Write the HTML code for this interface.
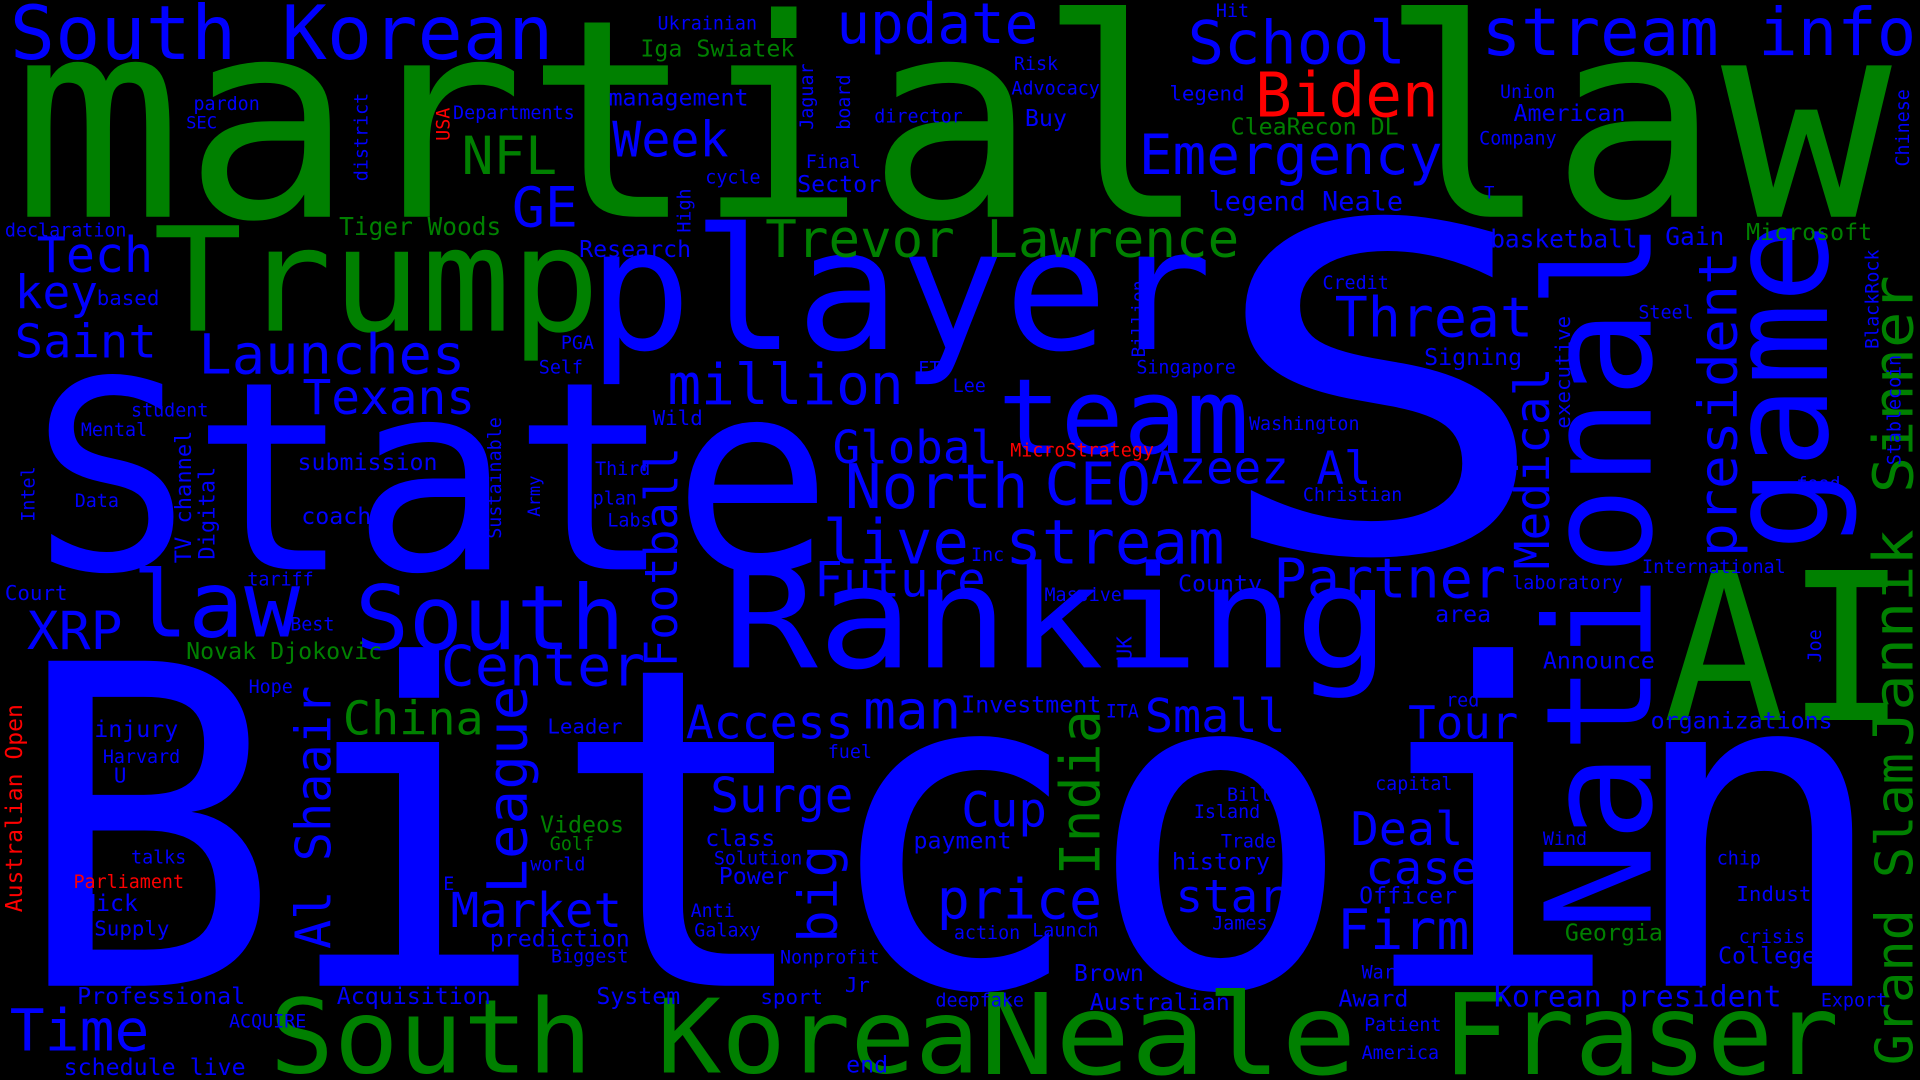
<!DOCTYPE html>
<html><head><meta charset="utf-8"><title>Word cloud</title>
<style>
html,body{margin:0;padding:0;background:#000;width:1920px;height:1080px;overflow:hidden}
svg{display:block}
text{font-family:"DejaVu Sans Mono","Liberation Mono",monospace}
.b{fill:#0000ff}.g{fill:#008000}.r{fill:#ff0000}
</style></head>
<body>
<svg width="1920" height="1080" viewBox="0 0 1568 882" xmlns="http://www.w3.org/2000/svg">
<rect width="1568" height="882" fill="#000"/>
<g>
<!-- big words -->
<text class="g" x="10" y="177" font-size="226" textLength="1535" lengthAdjust="spacingAndGlyphs">martial law</text>
<text class="b" x="10" y="805" font-size="364" textLength="1535" lengthAdjust="spacingAndGlyphs">Bitcoin</text>
<text class="b" x="25" y="465" font-size="215" textLength="655" lengthAdjust="spacingAndGlyphs">State</text>
<text class="b" x="985" y="450" font-size="370" textLength="285" lengthAdjust="spacingAndGlyphs">S</text>
<text class="b" x="590" y="545" font-size="116" textLength="545" lengthAdjust="spacingAndGlyphs">Ranking</text>
<text class="b" x="480" y="285" font-size="138" textLength="510" lengthAdjust="spacingAndGlyphs">player</text>
<text class="g" x="125" y="270" font-size="118" textLength="365" lengthAdjust="spacingAndGlyphs">Trump</text>
<text class="g" x="220" y="876" font-size="84" textLength="580" lengthAdjust="spacingAndGlyphs">South Korea</text>
<text class="g" x="800" y="877" font-size="92" textLength="308" lengthAdjust="spacingAndGlyphs">Neale</text>
<text class="g" x="1178" y="877" font-size="92" textLength="324" lengthAdjust="spacingAndGlyphs">Fraser</text>
<text class="g" x="1358" y="588" font-size="168" textLength="200" lengthAdjust="spacingAndGlyphs">AI</text>
<text class="b" x="815" y="370" font-size="85" textLength="205" lengthAdjust="spacingAndGlyphs">team</text>
<text class="b" x="290" y="530" font-size="73" textLength="220" lengthAdjust="spacingAndGlyphs">South</text>
<text class="b" x="108" y="520" font-size="75" textLength="137" lengthAdjust="spacingAndGlyphs">law</text>
<text class="g" x="625" y="210" font-size="42" textLength="387" lengthAdjust="spacingAndGlyphs">Trevor Lawrence</text>
<text class="b" x="930" y="142" font-size="45" textLength="248" lengthAdjust="spacingAndGlyphs">Emergency</text>
<text class="b" x="1210" y="45" font-size="54" textLength="355" lengthAdjust="spacingAndGlyphs">stream info</text>
<text class="b" x="8" y="48" font-size="61" textLength="444" lengthAdjust="spacingAndGlyphs">South Korean</text>
<text class="b" x="683" y="35" font-size="46" textLength="165" lengthAdjust="spacingAndGlyphs">update</text>
<text class="b" x="970" y="52" font-size="49" textLength="178" lengthAdjust="spacingAndGlyphs">School</text>
<text class="r" x="1025" y="95" font-size="50" textLength="150" lengthAdjust="spacingAndGlyphs">Biden</text>
<text class="g" x="377" y="142" font-size="43" textLength="78" lengthAdjust="spacingAndGlyphs">NFL</text>
<text class="b" x="500" y="128" font-size="40" textLength="95" lengthAdjust="spacingAndGlyphs">Week</text>
<text class="b" x="418" y="185" font-size="45" textLength="54" lengthAdjust="spacingAndGlyphs">GE</text>
<text class="b" x="30" y="222" font-size="40" textLength="95" lengthAdjust="spacingAndGlyphs">Tech</text>
<text class="b" x="12" y="252" font-size="38" textLength="68" lengthAdjust="spacingAndGlyphs">key</text>
<text class="b" x="12" y="292" font-size="38" textLength="116" lengthAdjust="spacingAndGlyphs">Saint</text>
<text class="b" x="162" y="305" font-size="45" textLength="218" lengthAdjust="spacingAndGlyphs">Launches</text>
<text class="b" x="247" y="338" font-size="39" textLength="141" lengthAdjust="spacingAndGlyphs">Texans</text>
<text class="b" x="545" y="330" font-size="46" textLength="193" lengthAdjust="spacingAndGlyphs">million</text>
<text class="b" x="1090" y="275" font-size="45" textLength="162" lengthAdjust="spacingAndGlyphs">Threat</text>
<text class="b" x="680" y="378" font-size="37" textLength="135" lengthAdjust="spacingAndGlyphs">Global</text>
<text class="b" x="690" y="415" font-size="50" textLength="150" lengthAdjust="spacingAndGlyphs">North</text>
<text class="b" x="853" y="412" font-size="48" textLength="87" lengthAdjust="spacingAndGlyphs">CEO</text>
<text class="b" x="940" y="395" font-size="37" textLength="180" lengthAdjust="spacingAndGlyphs">Azeez Al</text>
<text class="b" x="672" y="460" font-size="50" textLength="328" lengthAdjust="spacingAndGlyphs">live stream</text>
<text class="b" x="665" y="487" font-size="39" textLength="140" lengthAdjust="spacingAndGlyphs">Future</text>
<text class="b" x="1040" y="488" font-size="45" textLength="190" lengthAdjust="spacingAndGlyphs">Partner</text>
<text class="b" x="22" y="530" font-size="43" textLength="78" lengthAdjust="spacingAndGlyphs">XRP</text>
<text class="b" x="360" y="560" font-size="46" textLength="167" lengthAdjust="spacingAndGlyphs">Center</text>
<text class="g" x="280" y="600" font-size="38" textLength="115" lengthAdjust="spacingAndGlyphs">China</text>
<text class="b" x="560" y="603" font-size="38" textLength="137" lengthAdjust="spacingAndGlyphs">Access</text>
<text class="b" x="705" y="595" font-size="44" textLength="80" lengthAdjust="spacingAndGlyphs">man</text>
<text class="b" x="935" y="598" font-size="38" textLength="115" lengthAdjust="spacingAndGlyphs">Small</text>
<text class="b" x="1150" y="603" font-size="37" textLength="90" lengthAdjust="spacingAndGlyphs">Tour</text>
<text class="b" x="580" y="663" font-size="39" textLength="117" lengthAdjust="spacingAndGlyphs">Surge</text>
<text class="b" x="785" y="675" font-size="39" textLength="70" lengthAdjust="spacingAndGlyphs">Cup</text>
<text class="b" x="765" y="750" font-size="45" textLength="135" lengthAdjust="spacingAndGlyphs">price</text>
<text class="b" x="1103" y="690" font-size="38" textLength="92" lengthAdjust="spacingAndGlyphs">Deal</text>
<text class="b" x="1115" y="722" font-size="38" textLength="93" lengthAdjust="spacingAndGlyphs">case</text>
<text class="b" x="960" y="745" font-size="37" textLength="90" lengthAdjust="spacingAndGlyphs">star</text>
<text class="b" x="1092" y="775" font-size="45" textLength="108" lengthAdjust="spacingAndGlyphs">Firm</text>
<text class="b" x="368" y="757" font-size="39" textLength="140" lengthAdjust="spacingAndGlyphs">Market</text>
<text class="b" x="8" y="858" font-size="47" textLength="114" lengthAdjust="spacingAndGlyphs">Time</text>
<text class="b" x="1220" y="822" font-size="24" textLength="235" lengthAdjust="spacingAndGlyphs">Korean president</text>
<text class="g" x="1278" y="768" font-size="19">Georgia</text>

<!-- vertical words -->
<text class="b" transform="translate(1348,760) rotate(-90)" font-size="120" textLength="580" lengthAdjust="spacingAndGlyphs">National</text>
<text class="b" transform="translate(1492,450) rotate(-90)" font-size="112" textLength="270" lengthAdjust="spacingAndGlyphs">game</text>
<text class="b" transform="translate(1418,455) rotate(-90)" font-size="44" textLength="250" lengthAdjust="spacingAndGlyphs">president</text>
<text class="b" transform="translate(1265,465) rotate(-90)" font-size="39" textLength="165" lengthAdjust="spacingAndGlyphs">Medical</text>
<text class="g" transform="translate(1562,610) rotate(-90)" font-size="45" textLength="385" lengthAdjust="spacingAndGlyphs">Jannik Sinner</text>
<text class="g" transform="translate(1562,870) rotate(-90)" font-size="42" textLength="255" lengthAdjust="spacingAndGlyphs">Grand Slam</text>
<text class="b" transform="translate(553,545) rotate(-90)" font-size="37" textLength="180" lengthAdjust="spacingAndGlyphs">Football</text>
<text class="b" transform="translate(430,730) rotate(-90)" font-size="45" textLength="170" lengthAdjust="spacingAndGlyphs">League</text>
<text class="b" transform="translate(270,775) rotate(-90)" font-size="40" textLength="215" lengthAdjust="spacingAndGlyphs">Al Shaair</text>
<text class="g" transform="translate(898,715) rotate(-90)" font-size="45" textLength="135" lengthAdjust="spacingAndGlyphs">India</text>
<text class="b" transform="translate(683,770) rotate(-90)" font-size="44" textLength="80" lengthAdjust="spacingAndGlyphs">big</text>
<text class="r" transform="translate(18,745) rotate(-90)" font-size="19" textLength="170" lengthAdjust="spacingAndGlyphs">Australian Open</text>
<text class="b" transform="translate(156,460) rotate(-90)" font-size="18">TV channel</text>
<text class="b" transform="translate(175,457) rotate(-90)" font-size="18">Digital</text>
<text class="b" transform="translate(28,426) rotate(-90)" font-size="15">Intel</text>
<text class="b" transform="translate(409,440) rotate(-90)" font-size="15">Sustainable</text>
<text class="b" transform="translate(441,422) rotate(-90)" font-size="14">Army</text>
<text class="b" transform="translate(300,148) rotate(-90)" font-size="15">district</text>
<text class="r" transform="translate(367,115) rotate(-90)" font-size="15">USA</text>
<text class="b" transform="translate(664,106) rotate(-90)" font-size="15">Jaguar</text>
<text class="b" transform="translate(694,106) rotate(-90)" font-size="15">board</text>
<text class="b" transform="translate(564,190) rotate(-90)" font-size="15">High</text>
<text class="b" transform="translate(935,292) rotate(-90)" font-size="15">Billion</text>
<text class="b" transform="translate(924,540) rotate(-90)" font-size="17">UK</text>
<text class="b" transform="translate(1282,350) rotate(-90)" font-size="17">executive</text>
<text class="b" transform="translate(1559,136) rotate(-90)" font-size="15">Chinese</text>
<text class="b" transform="translate(1534,285) rotate(-90)" font-size="15">BlackRock</text>
<text class="b" transform="translate(1552,380) rotate(-90)" font-size="15">Stablecoin</text>
<text class="b" transform="translate(1487,541) rotate(-90)" font-size="15">Joe</text>

<!-- small words -->
<text class="b" x="537" y="24" font-size="15">Ukrainian</text>
<text class="g" x="523" y="46" font-size="19">Iga Swiatek</text>
<text class="b" x="993" y="14" font-size="15">Hit</text>
<text class="b" x="828" y="57" font-size="15">Risk</text>
<text class="b" x="826" y="77" font-size="15">Advocacy</text>
<text class="b" x="955" y="82" font-size="17">legend</text>
<text class="b" x="1225" y="80" font-size="15">Union</text>
<text class="b" x="1236" y="99" font-size="19">American</text>
<text class="b" x="1208" y="118" font-size="15">Company</text>
<text class="g" x="1005" y="110" font-size="19">CleaRecon DL</text>
<text class="b" x="158" y="90" font-size="15">pardon</text>
<text class="b" x="152" y="105" font-size="14">SEC</text>
<text class="b" x="370" y="97" font-size="15">Departments</text>
<text class="b" x="497" y="86" font-size="19">management</text>
<text class="b" x="714" y="100" font-size="15">director</text>
<text class="b" x="837" y="103" font-size="19">Buy</text>
<text class="b" x="658" y="137" font-size="15">Final</text>
<text class="b" x="576" y="150" font-size="15">cycle</text>
<text class="b" x="651" y="157" font-size="19">Sector</text>
<text class="b" x="987" y="172" font-size="22">legend Neale</text>
<text class="b" x="1212" y="162" font-size="14">T</text>
<text class="b" x="4" y="193" font-size="15">declaration</text>
<text class="g" x="277" y="192" font-size="20">Tiger Woods</text>
<text class="b" x="473" y="210" font-size="19">Research</text>
<text class="b" x="1217" y="202" font-size="20">basketball</text>
<text class="b" x="1360" y="200" font-size="20">Gain</text>
<text class="g" x="1426" y="196" font-size="19">Microsoft</text>
<text class="b" x="79" y="249" font-size="17">based</text>
<text class="b" x="1080" y="236" font-size="15">Credit</text>
<text class="b" x="1338" y="260" font-size="15">Steel</text>
<text class="b" x="458" y="285" font-size="15">PGA</text>
<text class="b" x="440" y="305" font-size="15">Self</text>
<text class="b" x="750" y="306" font-size="15">ETF</text>
<text class="b" x="928" y="305" font-size="15">Singapore</text>
<text class="b" x="1163" y="298" font-size="19">Signing</text>
<text class="b" x="778" y="320" font-size="15">Lee</text>
<text class="b" x="107" y="340" font-size="15">student</text>
<text class="b" x="66" y="356" font-size="15">Mental</text>
<text class="b" x="533" y="347" font-size="17">Wild</text>
<text class="b" x="1020" y="351" font-size="15">Washington</text>
<text class="r" x="825" y="373" font-size="15">MicroStrategy</text>
<text class="b" x="243" y="384" font-size="19">submission</text>
<text class="b" x="486" y="388" font-size="15">Third</text>
<text class="b" x="484" y="412" font-size="15">plan</text>
<text class="b" x="1064" y="409" font-size="15">Christian</text>
<text class="b" x="1467" y="400" font-size="15">food</text>
<text class="b" x="61" y="414" font-size="15">Data</text>
<text class="b" x="246" y="428" font-size="19">coach</text>
<text class="b" x="496" y="430" font-size="15">Labs</text>
<text class="b" x="793" y="458" font-size="15">Inc</text>
<text class="b" x="202" y="478" font-size="15">tariff</text>
<text class="b" x="962" y="483" font-size="19">County</text>
<text class="b" x="1235" y="481" font-size="15">laboratory</text>
<text class="b" x="1341" y="468" font-size="15">International</text>
<text class="b" x="853" y="491" font-size="15">Massive</text>
<text class="b" x="4" y="490" font-size="17">Court</text>
<text class="b" x="237" y="515" font-size="15">Best</text>
<text class="b" x="1172" y="508" font-size="19">area</text>
<text class="g" x="152" y="538" font-size="19">Novak Djokovic</text>
<text class="b" x="203" y="566" font-size="15">Hope</text>
<text class="b" x="1260" y="546" font-size="19">Announce</text>
<text class="b" x="1181" y="577" font-size="15">red</text>
<text class="b" x="785" y="582" font-size="19">Investment</text>
<text class="b" x="903" y="586" font-size="15">ITA</text>
<text class="b" x="447" y="599" font-size="17">Leader</text>
<text class="b" x="1348" y="595" font-size="19">organizations</text>
<text class="b" x="77" y="602" font-size="19">injury</text>
<text class="b" x="84" y="623" font-size="15">Harvard</text>
<text class="b" x="93" y="639" font-size="17">U</text>
<text class="b" x="676" y="619" font-size="15">fuel</text>
<text class="b" x="1123" y="645" font-size="15">capital</text>
<text class="b" x="1002" y="654" font-size="15">Bill</text>
<text class="b" x="975" y="668" font-size="15">Island</text>
<text class="g" x="441" y="680" font-size="19">Videos</text>
<text class="g" x="449" y="694" font-size="15">Golf</text>
<text class="b" x="576" y="691" font-size="19">class</text>
<text class="b" x="746" y="693" font-size="19">payment</text>
<text class="b" x="997" y="692" font-size="15">Trade</text>
<text class="b" x="1260" y="690" font-size="15">Wind</text>
<text class="b" x="107" y="705" font-size="15">talks</text>
<text class="b" x="583" y="706" font-size="15">Solution</text>
<text class="b" x="957" y="710" font-size="19">history</text>
<text class="b" x="1402" y="706" font-size="15">chip</text>
<text class="b" x="433" y="711" font-size="15">world</text>
<text class="b" x="587" y="722" font-size="19">Power</text>
<text class="r" x="60" y="725" font-size="15">Parliament</text>
<text class="b" x="362" y="727" font-size="15">E</text>
<text class="b" x="1418" y="736" font-size="17">Industry</text>
<text class="b" x="1110" y="738" font-size="19">Officer</text>
<text class="b" x="67" y="744" font-size="19">Nick</text>
<text class="b" x="564" y="749" font-size="15">Anti</text>
<text class="b" x="990" y="759" font-size="15">James</text>
<text class="b" x="77" y="764" font-size="17">Supply</text>
<text class="b" x="567" y="765" font-size="15">Galaxy</text>
<text class="b" x="779" y="767" font-size="15">action</text>
<text class="b" x="843" y="765" font-size="15">Launch</text>
<text class="b" x="400" y="773" font-size="19">prediction</text>
<text class="b" x="1420" y="770" font-size="15">crisis</text>
<text class="b" x="450" y="786" font-size="15">Biggest</text>
<text class="b" x="637" y="787" font-size="15">Nonprofit</text>
<text class="b" x="1403" y="787" font-size="19">College</text>
<text class="b" x="877" y="801" font-size="19">Brown</text>
<text class="b" x="1112" y="799" font-size="15">War</text>
<text class="b" x="690" y="810" font-size="17">Jr</text>
<text class="b" x="63" y="820" font-size="19">Professional</text>
<text class="b" x="275" y="820" font-size="19">Acquisition</text>
<text class="b" x="487" y="820" font-size="19">System</text>
<text class="b" x="621" y="820" font-size="17">sport</text>
<text class="b" x="1093" y="822" font-size="19">Award</text>
<text class="b" x="1487" y="822" font-size="15">Export</text>
<text class="b" x="764" y="822" font-size="15">deepfake</text>
<text class="b" x="890" y="825" font-size="19">Australian</text>
<text class="b" x="187" y="839" font-size="15">ACQUIRE</text>
<text class="b" x="1114" y="842" font-size="15">Patient</text>
<text class="b" x="52" y="878" font-size="19">schedule live</text>
<text class="b" x="691" y="876" font-size="19">end</text>
<text class="b" x="1112" y="865" font-size="15">America</text>
</g>
</svg>
</body></html>
